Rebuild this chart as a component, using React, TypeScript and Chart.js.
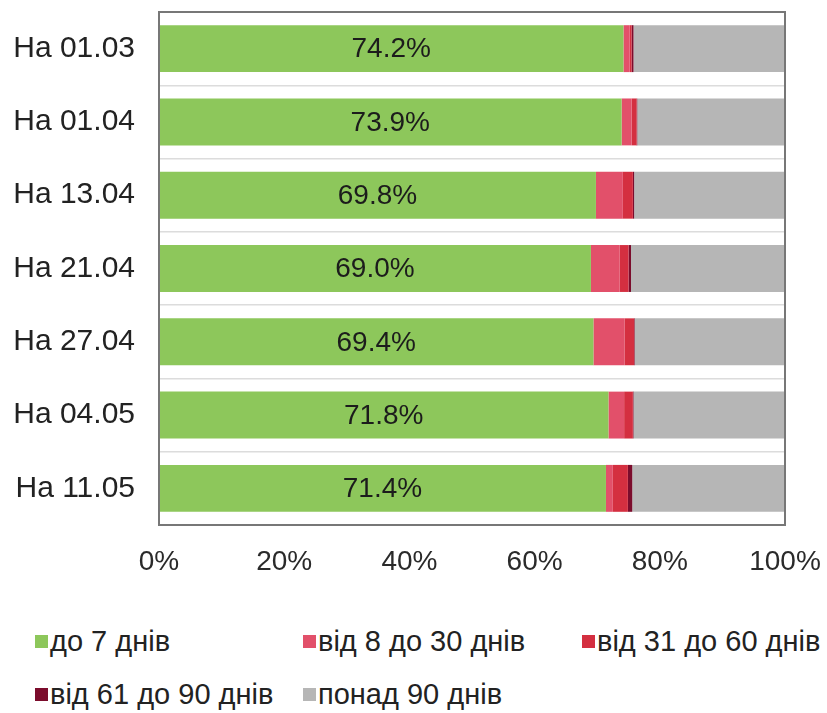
import React, { useEffect, useRef } from "react";
import { Chart, registerables } from "chart.js";

Chart.register(...registerables);

const categories = ["На 01.03", "На 01.04", "На 13.04", "На 21.04", "На 27.04", "На 04.05", "На 11.05"];
const upTo7 = [74.2, 73.9, 69.8, 69.0, 69.4, 71.8, 71.4];
const from8to30 = [1.0, 1.6, 4.3, 4.6, 5.0, 2.5, 1.1];
const from31to60 = [0.3, 0.8, 1.6, 1.4, 1.5, 1.4, 2.4];
const from61to90 = [0.3, 0.1, 0.2, 0.4, 0.1, 0.1, 0.7];
const over90 = [24.2, 23.6, 24.1, 24.6, 24.0, 24.2, 24.4];
const xTicks = [0, 20, 40, 60, 80, 100];

const seriesNames = ["до 7 днів", "від 8 до 30 днів", "від 31 до 60 днів", "від 61 до 90 днів", "понад 90 днів"];
const colors = ["#8DC75B", "#E2506A", "#D42F40", "#7B0C2C", "#B6B6B6"];

const FONT = "'Liberation Sans', Arial, sans-serif";

const labelPlugin = {
  id: "greenLabels",
  afterDatasetsDraw(chart: any) {
    const ctx = chart.ctx;
    const meta = chart.getDatasetMeta(0);
    ctx.save();
    ctx.font = `28px ${FONT}`;
    ctx.fillStyle = "#1c1c1c";
    ctx.textAlign = "center";
    ctx.textBaseline = "middle";
    meta.data.forEach((el: any, i: number) => {
      const x = (el.x + el.base) / 2;
      ctx.fillText(upTo7[i].toFixed(1) + "%", x, el.y + 1);
    });
    ctx.restore();
  },
};

const framePlugin = {
  id: "frame",
  afterDraw(chart: any) {
    const { ctx, chartArea } = chart;
    ctx.save();
    ctx.strokeStyle = "#777777";
    ctx.lineWidth = 2;
    ctx.strokeRect(chartArea.left, chartArea.top, chartArea.right - chartArea.left, chartArea.bottom - chartArea.top);
    ctx.restore();
  },
};

export default function App() {
  const ref = useRef<HTMLCanvasElement>(null);

  useEffect(() => {
    if (!ref.current) return;
    const data = [upTo7, from8to30, from31to60, from61to90, over90];
    const chart = new Chart(ref.current, {
      type: "bar",
      data: {
        labels: categories,
        datasets: data.map((d, i) => ({
          label: seriesNames[i],
          data: d,
          backgroundColor: colors[i],
          borderWidth: 0,
          barPercentage: 0.64,
          categoryPercentage: 1,
        })),
      },
      options: {
        indexAxis: "y",
        animation: false,
        responsive: false,
        maintainAspectRatio: false,
        layout: { padding: { top: 12, right: 42, bottom: 0, left: 0 } },
        plugins: {
          legend: { display: false },
          tooltip: { enabled: false },
        },
        scales: {
          x: {
            stacked: true,
            min: 0,
            max: 100,
            afterBuildTicks: (scale: any) => {
              scale.ticks = xTicks.map((v) => ({ value: v }));
            },
            afterFit: (scale: any) => {
              scale.height = 75;
              scale.paddingLeft = 0;
              scale.paddingRight = 0;
            },
            grid: { display: false, drawTicks: false },
            border: { display: false },
            ticks: {
              padding: 20,
              color: "#2a2a2a",
              font: { size: 28, family: FONT },
              callback: (v: any) => v + "%",
            },
          },
          y: {
            stacked: true,
            afterFit: (scale: any) => {
              scale.width = 159;
              scale.paddingTop = 0;
              scale.paddingBottom = 0;
            },
            grid: { offset: true, color: "#dcdcdc", lineWidth: 1.5, drawTicks: false },
            border: { display: false },
            ticks: {
              padding: 24,
              color: "#222222",
              font: { size: 30, family: FONT },
            },
          },
        },
      },
      plugins: [labelPlugin, framePlugin],
    });
    return () => chart.destroy();
  }, []);

  const legendPos = [
    { x: 35, y: 641 },
    { x: 303, y: 641 },
    { x: 582, y: 641 },
    { x: 35, y: 694 },
    { x: 303, y: 694 },
  ];

  return (
    <div style={{ position: "fixed", left: 0, top: 0, width: 827, height: 713, background: "#fff", overflow: "hidden" }}>
      <canvas ref={ref} width={827} height={600} style={{ position: "absolute", left: 0, top: 0, width: 827, height: 600 }} />
      {seriesNames.map((name, i) => (
        <div
          key={name}
          style={{
            position: "absolute",
            left: legendPos[i].x,
            top: legendPos[i].y - 17,
            height: 34,
            display: "flex",
            alignItems: "center",
            fontFamily: FONT,
            fontSize: 29,
            color: "#222",
            whiteSpace: "nowrap",
          }}
        >
          <span style={{ display: "inline-block", width: 13, height: 13, background: colors[i], marginRight: 2 }} />
          <span>{name}</span>
        </div>
      ))}
    </div>
  );
}
